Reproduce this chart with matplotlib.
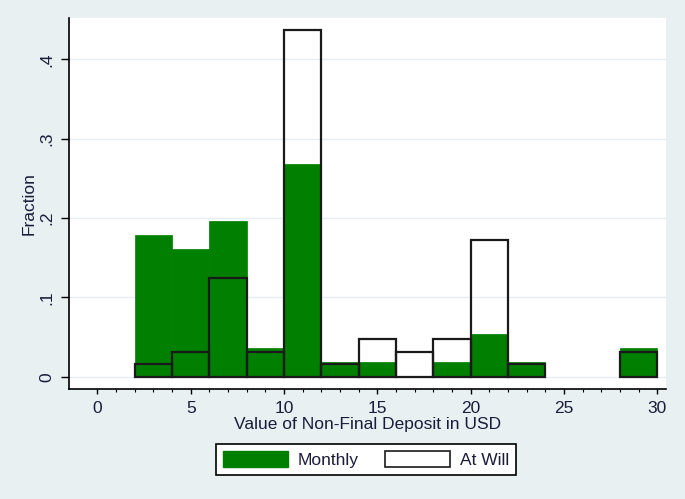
import matplotlib.pyplot as plt
from matplotlib.patches import Patch

plt.rcParams['font.family'] = ['Liberation Sans', 'DejaVu Sans']

# Histogram bins (width 2 USD), left edges
bin_lefts = [2, 4, 6, 8, 10, 12, 14, 16, 18, 20, 22, 28]
bin_width = 2
monthly = [0.179, 0.161, 0.196, 0.036, 0.268, 0.018, 0.018, 0.0, 0.018, 0.054, 0.018, 0.036]
at_will = [0.0156, 0.031, 0.125, 0.031, 0.4375, 0.0156, 0.047, 0.031, 0.047, 0.172, 0.0156, 0.031]

x_ticks = [0, 5, 10, 15, 20, 25, 30]
y_ticks = [0, 0.1, 0.2, 0.3, 0.4]
y_tick_labels = ['0', '.1', '.2', '.3', '.4']

bg = '#E8F0F2'
green = '#007F00'
txt = '#1c1c3a'
fs = 12.5

fig = plt.figure(figsize=(6.85, 4.99), dpi=100, facecolor=bg)
ax = fig.add_axes([0.100, 0.2204, 0.8727, 0.7435])
ax.set_facecolor('white')

ax.bar(bin_lefts, monthly, width=bin_width, align='edge', color=green,
       edgecolor=green, linewidth=0.5, zorder=2)
ax.bar(bin_lefts, at_will, width=bin_width, align='edge', facecolor='none',
       edgecolor='#1a1a1a', linewidth=1.6, zorder=3)

ax.set_xlim(-1.55, 30.48)
ax.set_ylim(-0.0155, 0.452)

ax.set_xticks(x_ticks)
ax.set_xticks(range(0, 31), minor=True)
ax.set_yticks(y_ticks)
ax.set_yticklabels(y_tick_labels, rotation=90, va='center')
ax.tick_params(axis='both', labelsize=fs, colors='black', labelcolor=txt)
ax.tick_params(axis='x', which='major', length=3.5, width=1, pad=5)
ax.tick_params(axis='x', which='minor', length=2.5, width=0.8)
ax.tick_params(axis='y', length=6, width=1, pad=4.5)

ax.grid(axis='y', color='#E6EEF2', linewidth=1, zorder=0)
ax.set_axisbelow(True)
for side in ['top', 'right']:
    ax.spines[side].set_visible(False)
for side in ['left', 'bottom']:
    ax.spines[side].set_linewidth(1.2)

ax.set_xlabel('Value of Non-Final Deposit in USD', fontsize=fs, color=txt, labelpad=0.5)
ax.set_ylabel('Fraction', fontsize=fs, color=txt, labelpad=2)

handles = [Patch(facecolor=green, edgecolor=green, label='Monthly'),
           Patch(facecolor='white', edgecolor='#1a1a1a', linewidth=1.2, label='At Will')]
leg = fig.legend(handles=handles, loc='center', ncol=2,
                 bbox_to_anchor=(366 / 685, 1 - 459.7 / 499),
                 fontsize=fs, frameon=True, fancybox=False,
                 edgecolor='black', facecolor='white', framealpha=1,
                 handlelength=3.74, handleheight=1.0, columnspacing=1.5,
                 borderpad=0.4, handletextpad=0.57, borderaxespad=0)
leg.get_frame().set_linewidth(1.2)
for t in leg.get_texts():
    t.set_color(txt)

plt.savefig('out.png', dpi=100, facecolor=bg)
